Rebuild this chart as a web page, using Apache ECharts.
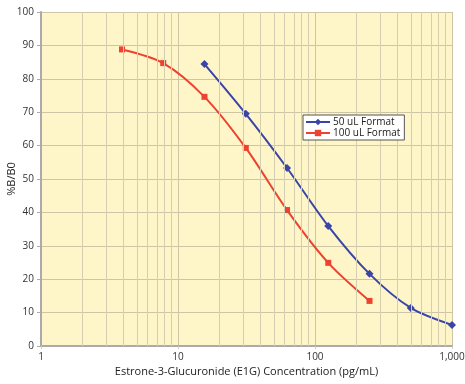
<!DOCTYPE html>
<html><head><meta charset="utf-8">
<script src="https://cdn.jsdelivr.net/npm/echarts@6/dist/echarts.min.js"></script>
<style>html,body{margin:0;padding:0;background:#fff}#c{width:465px;height:384px}</style>
</head><body><div id="c"></div>
<script>
const xTicks = [1, 10, 100, 1000];
const minorX = [2,3,4,5,6,7,8,9,20,30,40,50,60,70,80,90,200,300,400,500,600,700,800,900];
const conc50 = [15.6, 31.25, 62.5, 125, 250, 500, 1000];
const val50 = [84.4, 69.5, 53.3, 35.9, 21.6, 11.4, 6.3];
const conc100 = [3.9, 7.8, 15.6, 31.25, 62.5, 125, 250];
const val100 = [88.8, 84.7, 74.6, 59.3, 40.7, 24.9, 13.5];

const chart = echarts.init(document.getElementById('c'));
const font = '"Open Sans"';
chart.setOption({
  animation: false,
  grid: {left: 41, right: 13, top: 12, bottom: 38, containLabel: false, outerBoundsMode: 'none',
    show: true, backgroundColor: '#fef6c8', borderWidth: 0},
  legend: {
    left: 303, top: 115, orient: 'vertical', itemGap: 1, itemWidth: 24, itemHeight: 8, z: 10,
    backgroundColor: '#fff', borderColor: '#555', borderWidth: 1, borderRadius: 0, padding: [2, 4, 2, 2],
    textStyle: {fontFamily: font, fontSize: 10, color: '#222', padding: [0, 0, 0, -2]},
    data: ['50 uL Format', '100 uL Format']
  },
  xAxis: {
    type: 'log', logBase: 10, min: 1, max: 1000,
    name: 'Estrone-3-Glucuronide (E1G) Concentration (pg/mL)', nameLocation: 'middle', nameGap: 20,
    nameMoveOverlap: false,
    nameTextStyle: {fontFamily: font, fontSize: 11, color: '#222'},
    axisLine: {lineStyle: {color: '#aaa', width: 2}},
    axisTick: {show: true, length: 3, lineStyle: {color: '#ccc'}},
    axisLabel: {fontFamily: font, fontSize: 10, color: '#333', margin: 6,
      formatter: v => Number(v).toLocaleString('en-US')},
    splitLine: {show: true, lineStyle: {color: '#cdc5a6', width: 1}}
  },
  yAxis: {
    type: 'value', min: 0, max: 100, interval: 10,
    name: '%B/B0', nameLocation: 'middle', nameGap: 24, nameMoveOverlap: false,
    nameTextStyle: {fontFamily: font, fontSize: 11, color: '#222'},
    axisLine: {show: true, lineStyle: {color: '#aaa', width: 2}},
    axisTick: {show: true, length: 4, lineStyle: {color: '#aaa'}},
    axisLabel: {fontFamily: font, fontSize: 10, color: '#333', margin: 7},
    splitLine: {show: true, lineStyle: {color: '#cdc5a6', width: 1}}
  },
  series: [
    {
      name: 'grid-minor', type: 'line', data: [], silent: true,
      markLine: {silent: true, symbol: 'none', label: {show: false},
        lineStyle: {color: '#d6ceb0', width: 1, type: 'solid'},
        data: minorX.map(v => ({xAxis: v}))}
    },
    {
      name: '50 uL Format', type: 'line', smooth: 0.3,
      data: conc50.map((c, i) => [c, val50[i]]),
      symbol: 'diamond', symbolSize: 8,
      lineStyle: {color: '#3a45a8', width: 2},
      itemStyle: {color: '#3a45a8'}
    },
    {
      name: '100 uL Format', type: 'line', smooth: 0.3,
      data: conc100.map((c, i) => [c, val100[i]]),
      symbol: 'rect', symbolSize: 6,
      lineStyle: {color: '#ec4330', width: 2},
      itemStyle: {color: '#ec4330'}
    }
  ]
});
</script></body></html>
